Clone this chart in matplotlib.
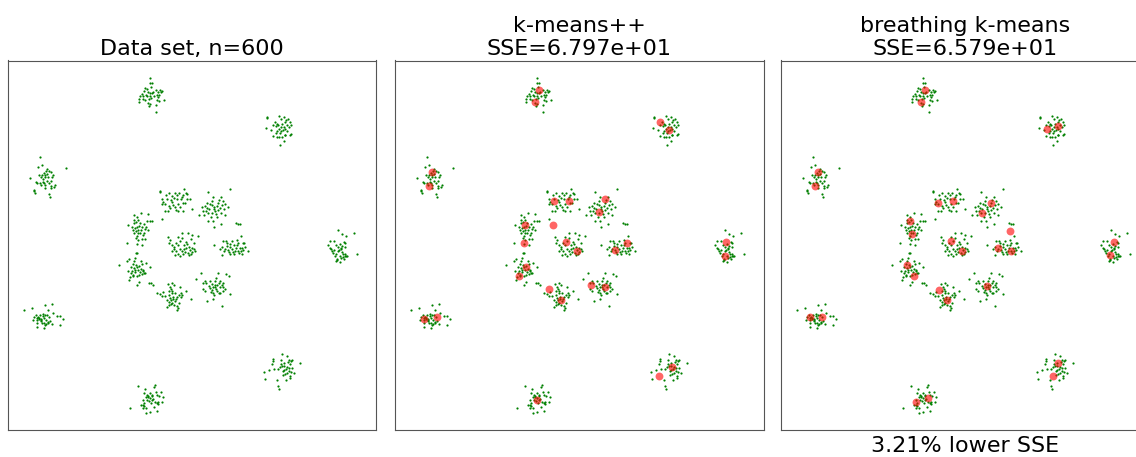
import numpy as np
import matplotlib
matplotlib.use('Agg')
import matplotlib.pyplot as plt

# Points, grouped per cluster.
# Each cluster: crop origin (px) + dot positions inside the 3x crop.
CLUSTERS = [
    ((118, 68), [(97,29),(97,46),(103,46),(81,59),(100,58),(87,63),(113,66),(125,66),(133,69),(78,69),
                 (90,72),(106,71),(121,71),(130,73),(73,77),(95,76),(102,76),(83,80),(116,80),(123,82),
                 (66,84),(76,83),(88,84),(96,84),(109,85),(120,86),(62,93),(74,93),(92,94),(80,95),
                 (100,91),(117,95),(123,98),(137,95),(63,103),(90,106),(97,107),(93,115),(113,112),(113,131)]),
    ((248, 98), [(92,53),(56,56),(57,60),(108,58),(99,63),(120,63),(115,67),(82,71),(112,72),(126,73),
                 (86,77),(103,77),(76,81),(91,80),(118,80),(130,82),(54,89),(84,85),(98,87),(108,86),
                 (123,88),(93,92),(112,93),(68,97),(87,100),(100,99),(118,99),(96,104),(84,104),(110,110),
                 (128,109),(76,114),(92,116),(101,117),(112,112),(125,110),(88,118),(107,130),(97,142),(104,96)]),
    ((10, 150), [(91,22),(97,46),(85,51),(169,54),(112,57),(107,63),(118,63),(102,68),(104,74),(110,73),
                 (122,67),(96,75),(130,76),(86,74),(127,82),(61,85),(92,82),(104,80),(115,82),(98,88),
                 (112,92),(123,92),(100,95),(78,97),(82,100),(90,100),(103,99),(117,100),(94,105),(106,106),
                 (122,108),(134,106),(131,110),(104,115),(122,113),(71,120),(73,124),(75,130),(117,131),(121,140)]),
    ((308, 218), [(90,36),(102,48),(114,53),(138,45),(67,68),(78,68),(108,72),(112,75),(95,77),(84,82),
                  (60,81),(101,84),(99,90),(112,88),(70,93),(78,96),(92,96),(103,103),(74,104),(84,107),
                  (104,107),(110,108),(118,113),(147,107),(80,115),(96,114),(106,116),(86,123),(100,120),(83,128),
                  (96,131),(110,114),(73,100),(100,92),(89,100),(66,90),(90,86),(114,115),(86,126),(108,124)]),
    ((10, 288), [(106,50),(127,48),(66,61),(43,67),(115,67),(130,75),(91,81),(98,78),(104,80),(110,80),
                 (77,82),(85,86),(72,88),(88,91),(94,92),(101,90),(117,86),(141,85),(150,83),(160,93),
                 (70,95),(82,97),(92,98),(108,95),(121,100),(80,104),(97,106),(103,104),(113,101),(127,109),
                 (150,110),(80,117),(103,119),(106,112),(94,96),(86,94),(115,104),(109,108),(82,90),(98,85)]),
    ((248, 337), [(102,50),(116,56),(74,66),(98,70),(76,72),(123,68),(130,72),(133,70),(155,77),(120,76),
                  (109,77),(72,80),(126,80),(99,82),(101,88),(116,90),(124,92),(90,97),(109,100),(104,102),
                  (77,95),(62,100),(47,105),(137,108),(122,103),(118,107),(129,105),(111,110),(126,116),(125,124),
                  (51,126),(88,129),(113,128),(89,148),(93,157),(97,90),(108,86),(131,92),(113,96),(106,113)]),
    ((118, 370), [(110,46),(107,50),(61,48),(81,58),(79,70),(96,69),(115,67),(128,66),(103,74),(91,78),
                  (117,76),(124,79),(134,82),(83,82),(96,84),(74,89),(102,89),(92,94),(98,98),(116,99),
                  (120,102),(132,97),(70,104),(76,106),(74,113),(84,114),(108,111),(36,113),(95,125),(83,130),
                  (116,123),(110,96),(87,90),(101,79),(119,97),(77,100),(89,82),(105,86),(78,108),(86,76)]),
    ((115, 180), [(134,32),(135,36),(206,28),(163,40),(180,40),(193,40),(212,38),(153,46),(172,48),(187,46),
                  (205,45),(216,42),(224,58),(140,58),(157,58),(168,60),(185,58),(199,58),(204,68),(210,68),
                  (150,72),(140,72),(162,77),(175,74),(190,72),(180,82),(150,92),(160,92),(184,90),(188,92),
                  (205,92),(230,86),(196,82),(170,66),(145,65),(215,56),(178,54),(200,50),(166,85),(142,118)]),
    ((115, 180), [(280,36),(345,28),(295,52),(318,52),(312,60),(324,64),(330,72),(275,68),(285,72),(262,80),
                  (270,78),(290,76),(298,80),(306,78),(322,74),(252,104),(272,92),(282,88),(296,88),(310,90),
                  (318,98),(330,104),(280,98),(292,100),(302,102),(268,104),(280,122),(295,124),(318,132),(296,142),
                  (308,68),(290,62),(275,85),(300,92),(327,88),(288,110),(314,84),(264,92),(340,80),(305,112)]),
    ((115, 180), [(77,100),(100,103),(58,106),(66,110),(96,124),(104,124),(110,122),(40,135),(52,140),(62,127),
                  (70,120),(74,130),(58,130),(66,140),(80,140),(90,146),(98,150),(62,152),(70,150),(76,158),
                  (86,160),(58,160),(66,168),(90,176),(80,176),(35,190),(66,193),(82,194),(63,218),(56,120),
                  (72,138),(60,145),(78,150),(68,160),(88,132),(54,150),(94,140),(70,180),(84,166),(62,175)]),
    ((115, 180), [(202,158),(218,160),(160,170),(188,170),(200,174),(232,166),(248,168),(196,182),(212,186),(228,178),
                  (162,188),(182,188),(170,195),(190,196),(206,196),(222,200),(236,206),(178,206),(196,206),(212,204),
                  (224,210),(232,216),(220,218),(228,222),(170,212),(184,214),(200,212),(210,216),(240,212),(190,222),
                  (165,180),(176,200),(216,192),(238,190),(204,222),(180,224),(222,226),(196,228),(230,204),(208,208)]),
    ((115, 180), [(362,128),(368,132),(374,132),(378,168),(298,194),(325,182),(334,182),(352,184),(370,190),(384,190),
                  (388,188),(322,200),(336,198),(346,200),(356,196),(366,196),(374,204),(382,204),(398,214),(326,214),
                  (340,210),(350,208),(360,212),(370,214),(378,214),(384,210),(320,224),(344,222),(358,222),(372,220),
                  (336,190),(362,205),(390,200),(314,206),(346,192),(380,222),(330,206),(366,180),(354,216),(342,216)]),
    ((110, 250), [(80,8),(58,26),(76,24),(50,34),(26,46),(68,42),(78,44),(86,48),(96,42),(108,40),
                  (94,32),(62,50),(72,54),(82,52),(92,56),(54,64),(64,70),(70,74),(76,66),(90,66),
                  (98,62),(104,70),(120,52),(68,78),(60,82),(80,78),(86,74),(102,68),(56,90),(88,96),
                  (82,106),(118,98),(124,100),(130,106),(74,60),(96,72),(66,62),(100,60),(84,60),(72,34)]),
    ((110, 250), [(174,102),(186,98),(192,104),(182,118),(210,110),(140,128),(160,126),(176,124),(186,122),(196,130),
                  (206,134),(214,130),(228,124),(156,138),(164,138),(178,136),(190,140),(200,140),(212,142),(244,148),
                  (182,150),(176,156),(186,158),(194,154),(208,160),(172,170),(184,162),(200,168),(204,174),(200,180),
                  (180,144),(190,146),(170,150),(198,148),(186,130),(178,164),(192,166),(216,136),(150,132),(180,110)]),
    ((110, 250), [(274,70),(324,70),(348,72),(356,78),(258,88),(318,84),(284,92),(300,94),(314,94),(330,92),
                  (340,98),(278,100),(288,100),(306,102),(322,104),(336,104),(280,118),(300,114),(316,112),(330,112),
                  (344,118),(286,124),(306,120),(320,122),(338,122),(310,130),(330,130),(312,136),(326,128),(360,132),
                  (290,154),(310,148),(336,168),(296,108),(314,104),(326,98),(304,126),(318,116),(340,110),(308,110)]),
]

KMPP_CENTERS = [(436,88),(422,122),(798,184),(825,208),(115,333),(105,374),(480,421),(525,421),(633,414),(614,452),
                (393,493),(477,493),(391,546),(516,543),(549,570),(698,546),(664,567),(997,543),(992,584),(396,618),
                (376,644),(465,683),(501,716),(592,673),(633,678),(91,773),(129,767),(835,917),(794,946),(430,1016)]
BKM_CENTERS = [(436,88),(422,122),(801,203),(833,196),(115,333),(105,374),(475,426),(520,421),(633,426),(607,455),
               (391,481),(396,519),(689,510),(513,541),(547,570),(653,560),(693,570),(1003,544),(989,582),(381,611),
               (401,644),(478,687),(501,718),(622,676),(89,769),(127,769),(833,906),(819,944),(407,1023),(444,1011)]

TITLES = ['Data set, n=600', 'k-means++\nSSE=6.797e+01', 'breathing k-means\nSSE=6.579e+01']
NOTE = '3.21% lower SSE'


def to_px(origin, pts):
    a = np.array(pts, dtype=float) / 3.0
    return a + np.array(origin)


X = np.vstack([to_px(o, p) for o, p in CLUSTERS])
C_kmpp = to_px((7, 61), KMPP_CENTERS)
C_bkm = to_px((7, 61), BKM_CENTERS)

fig = plt.figure(figsize=(11.36, 4.57), dpi=100)
W, H = 1136, 457
lefts = [7.5, 394.5, 780.5]
axes = [fig.add_axes([l / W, 27 / H, 369 / W, 369.5 / H]) for l in lefts]

for i, ax in enumerate(axes):
    ax.scatter(X[:, 0], X[:, 1], s=2.5, c='green', linewidths=0)
    if i == 1:
        ax.scatter(C_kmpp[:, 0], C_kmpp[:, 1], s=32, c='red', alpha=0.6, linewidths=0)
    if i == 2:
        ax.scatter(C_bkm[:, 0], C_bkm[:, 1], s=32, c='red', alpha=0.6, linewidths=0)
    ax.set_xlim(7.5, 376.5)
    ax.set_ylim(430, 60.5)
    ax.set_xticks([])
    ax.set_yticks([])
    for sp in ax.spines.values():
        sp.set_color('#555555')
    ax.set_title(TITLES[i], fontsize=16, pad=4)

axes[2].text(0.5, -0.015, NOTE, transform=axes[2].transAxes, ha='center', va='top', fontsize=16)

fig.savefig('out.png', dpi=100)
